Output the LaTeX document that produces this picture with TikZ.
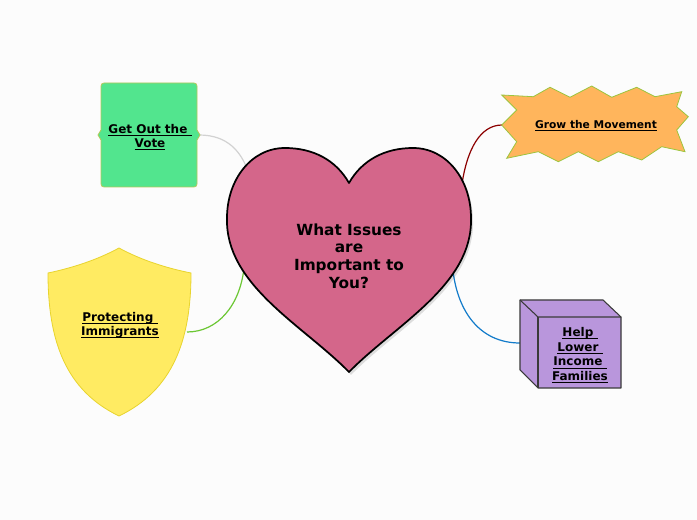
\documentclass[tikz,border=0pt]{standalone}
\usepackage{fontspec}
\setmainfont{DejaVu Sans}
\usepackage{xcolor}
\definecolor{bgcol}{HTML}{FCFCFC}
\definecolor{heartfill}{HTML}{D4668A}
\definecolor{votefill}{HTML}{52E58E}
\definecolor{voteline}{HTML}{B4C85A}
\definecolor{shieldfill}{HTML}{FFEB62}
\definecolor{shieldline}{HTML}{E8D42E}
\definecolor{growfill}{HTML}{FFB55C}
\definecolor{growline}{HTML}{9CC53E}
\definecolor{helpfill}{HTML}{B996DC}
\definecolor{helpline}{HTML}{3A3A3A}
% underline just under the baseline
\newcommand{\ulbl}[1]{\underline{\smash{#1}}}

\begin{document}
\begin{tikzpicture}[
    x=0.75pt, y=-0.75pt,
    lbl/.style={font=\bfseries\fontsize{9}{10.5}\selectfont, align=center,
                inner sep=0pt, text=black},
    link/.style={line width=0.9pt},
]
% canvas
\fill[bgcol] (0,0) rectangle (697,520);
\useasboundingbox (0,0) rectangle (697,520);

% end points of the branches
\coordinate (vote-r)   at (199,135);
\coordinate (heart-a)  at (248,171);
\coordinate (shield-r) at (187,332);
\coordinate (heart-b)  at (244,268);
\coordinate (grow-l)   at (502,125);
\coordinate (heart-c)  at (462,184);
\coordinate (help-l)   at (520,343);
\coordinate (heart-d)  at (453,271);

% branches
\draw[link, gray!35]         (vote-r)   .. controls (228,135) and (241,152) .. (heart-a);
\draw[link, green!45!olive!80] (shield-r) .. controls (218,332) and (240,305) .. (heart-b);
\draw[link, red!55!black]    (grow-l)   .. controls (480,125) and (467,150) .. (heart-c);
\draw[link, cyan!60!blue]    (help-l)   .. controls (480,343) and (458,312) .. (heart-d);

% heart (central topic)
\fill[black, opacity=0.12, shift={(2,3)}]
    (349,183) .. controls (362,160) and (385,148) .. (413,148)
    .. controls (447,148) and (471,180) .. (471,218)
    .. controls (473,285) and (395,325) .. (349,372)
    .. controls (303,325) and (225,285) .. (227,218)
    .. controls (227,180) and (251,148) .. (285,148)
    .. controls (313,148) and (336,160) .. cycle;
\draw[fill=heartfill, line width=1.3pt, line join=round]
    (349,183) .. controls (362,160) and (385,148) .. (413,148)
    .. controls (447,148) and (471,180) .. (471,218)
    .. controls (473,285) and (395,325) .. (349,372)
    .. controls (303,325) and (225,285) .. (227,218)
    .. controls (227,180) and (251,148) .. (285,148)
    .. controls (313,148) and (336,160) .. cycle;

% green box
\draw[fill=votefill, draw=voteline, line width=0.6pt]
    (104,83) -- (194,83) to[out=0,in=90] (197,86) -- (197,130) -- (200,135)
    -- (197,140) -- (197,184) to[out=-90,in=0] (194,187) -- (104,187)
    to[out=180,in=-90] (101,184) -- (101,140) -- (98,135) -- (101,130)
    -- (101,86) to[out=90,in=180] cycle;

% yellow shield
\draw[fill=shieldfill, draw=shieldline, line width=0.6pt]
    (119,248) .. controls (97,260) and (72,268) .. (48,273)
    .. controls (48,340) and (65,390) .. (119,416)
    .. controls (173,390) and (191,340) .. (191,273)
    .. controls (166,268) and (141,260) .. cycle;

% orange burst
\draw[fill=growfill, draw=growline, line width=0.6pt, line join=miter]
    (501.7,95) -- (533.3,96.7) -- (550,87.3) -- (570,97.3) -- (591.7,86)
    -- (611.7,97.3) -- (636.7,87.3) -- (655,96.7) -- (681.7,91.7)
    -- (676.7,106.7) -- (688.3,116.7) -- (676.7,130) -- (685,151.7)
    -- (661.7,146.7) -- (641.7,160) -- (618.3,151.7) -- (598.3,161.7)
    -- (578.3,151.7) -- (558.3,161.7) -- (538.3,151.7) -- (506.7,158.3)
    -- (516.7,141.7) -- (501.7,125) -- (516.7,110) -- cycle;

% purple box
\draw[fill=helpfill, draw=helpline, line width=0.8pt, line join=round]
    (520,300) -- (603,300) -- (621,317) -- (621,388) -- (538,388)
    -- (520,370) -- cycle;
\draw[helpline, line width=0.8pt] (520,300) -- (538,317) -- (621,317);
\draw[helpline, line width=0.8pt] (538,317) -- (538,388);

% labels
\node[lbl, font=\bfseries\fontsize{11.5}{13.2}\selectfont] (issues) at (349,256)
    {What Issues\\are\\Important to\\You?};
\node[lbl] (vote) at (150,142) {\ulbl{Get Out the\ }\\\ulbl{Vote}};
\node[lbl] (shield) at (120,330) {\ulbl{Protecting\ }\\\ulbl{Immigrants}};
\node[lbl, font=\bfseries\fontsize{8}{10}\selectfont] (grow) at (596,130)
    {\ulbl{Grow the Movement}};
\node[lbl, font=\bfseries\fontsize{9}{11}\selectfont] (help) at (580,360)
    {\ulbl{Help\ }\\\ulbl{Lower\ }\\\ulbl{Income\ }\\\ulbl{Families}};

\end{tikzpicture}
\end{document}
